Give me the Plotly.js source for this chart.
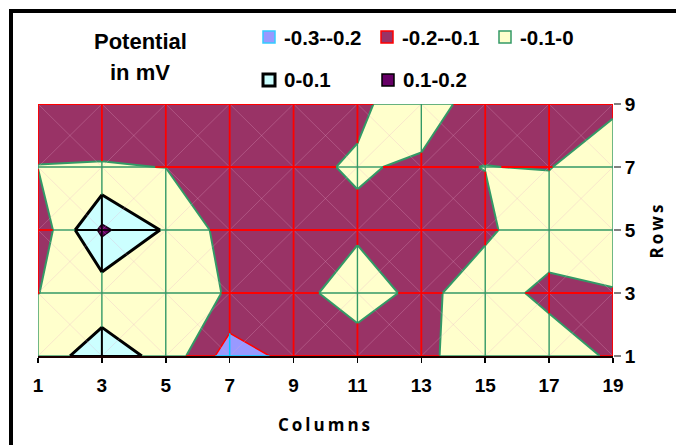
<!DOCTYPE html>
<html>
<head>
<meta charset="utf-8">
<script src="https://cdn.plot.ly/plotly-3.0.1.min.js"></script>
<style>
  html, body { margin: 0; padding: 0; background: #fff; }
  #wrap { position: relative; width: 676px; height: 445px; overflow: hidden; }
  #chart { width: 676px; height: 445px; }
  #frame { position: absolute; left: 9px; top: 9px; width: 800px; height: 600px;
           border-left: 4px solid #000; border-top: 4px solid #000; pointer-events: none; }
  text.xtitle { letter-spacing: 3px; }
  text.ytitle { letter-spacing: 3px; }
</style>
</head>
<body>
<div id="wrap"><div id="chart"></div><div id="frame"></div></div>
<script>
// ---- data ----
const cols = [1, 3, 5, 7, 9, 11, 13, 15, 17, 19];
const rows = [1, 3, 5, 7, 9];
const row1 = [-0.05, 0.05, -0.03, -0.25, -0.17, -0.138, -0.12, -0.05, -0.05, -0.113];
const row3 = [-0.101, -0.06, -0.02, -0.112, -0.123, -0.065, -0.12, -0.06, -0.124, -0.102];
const row5 = [-0.167, 0.12, -0.012, -0.14, -0.14, -0.111, -0.14, -0.113, -0.05, -0.08];
const row7 = [-0.098, -0.095, -0.101, -0.14, -0.112, -0.094, -0.109, -0.099, -0.103, -0.05];
const row9 = [-0.15, -0.15, -0.15, -0.15, -0.15, -0.11, -0.07, -0.13, -0.13, -0.115];
const levels = [-0.2, -0.1, 0, 0.1];
const bandLabels = ['-0.3--0.2', '-0.2--0.1', '-0.1-0', '0-0.1', '0.1-0.2'];
const colTicks = cols.map(String);
const rowTicks = rows.map(String);

// ---- styles ----
const bandFill = ['#9999FF', '#993366', '#FFFFCC', '#CCFFFF', '#660066'];
const bandMesh = ['#00CCFF', '#FF0000', '#339966', '#000000', '#000000'];
const bandMeshW = [1.5, 1.8, 1.4, 2, 1.5];
const bandBorder = ['#33CCFF', '#FF0000', '#339966', '#000000', '#000000'];
const bandBorderW = [1.5, 1.5, 1.5, 3, 1.5];
const levelLine = [{color: '#FF0000', width: 1.5}, {color: '#339966', width: 2},
                   {color: '#000000', width: 3}, {color: '#1a001a', width: 1.5}];
const FONT = 'Liberation Sans, Arial, sans-serif';
const TFONT = 'Open Sans, Liberation Sans, sans-serif';

const z = [row1, row3, row5, row7, row9];
const W = 676, H = 445;
const M = {l: 38, r: 63, t: 104, b: 89};
const PW = W - M.l - M.r, PH = H - M.t - M.b;
const px2x = p => (p - M.l) / PW;
const py2y = p => (H - M.b - p) / PH;

function steppedScale(colors) {
  const n = colors.length, out = [];
  colors.forEach((c, i) => {
    const a = i === 0 ? 0 : (i - 0.5) / (n - 1);
    const b = i === n - 1 ? 1 : (i + 0.5) / (n - 1) - 1e-6;
    out.push([a, c]); out.push([b, c]);
  });
  return out;
}

function fillLayer(fromBand) {
  const colors = bandFill.map((c, i) => i < fromBand ? 'rgba(0,0,0,0)' : c);
  return {
    type: 'contour', x: cols, y: rows, z: z,
    autocontour: false,
    contours: {start: levels[0], end: levels[levels.length - 1], size: 0.1, coloring: 'fill', showlines: false},
    line: {width: 0, smoothing: 0},
    colorscale: steppedScale(colors), showscale: false, hoverinfo: 'skip'
  };
}

// faint cell diagonals (only left visible inside the darker bands)
function diagLayer() {
  const dx = [], dy = [];
  for (let i = 0; i < cols.length - 1; i++) {
    for (let j = 0; j < rows.length - 1; j++) {
      dx.push(cols[i], cols[i + 1], null, cols[i + 1], cols[i], null);
      dy.push(rows[j], rows[j + 1], null, rows[j], rows[j + 1], null);
    }
  }
  return {type: 'scatter', mode: 'lines', x: dx, y: dy,
          line: {color: 'rgba(230,170,200,0.4)', width: 0.7}, hoverinfo: 'skip', showlegend: false};
}

// mesh lines coloured by the band they run through (split where the value crosses a level)
function bandOf(v) { let k = 0; levels.forEach(L => { if (v >= L) k++; }); return k; }
function meshTraces() {
  const sx = bandFill.map(() => []), sy = bandFill.map(() => []);
  function edge(x0, y0, x1, y1, a, b) {
    const ts = [0];
    levels.forEach(L => { if ((a - L) * (b - L) < 0) ts.push((L - a) / (b - a)); });
    ts.push(1); ts.sort((p, q) => p - q);
    for (let s = 0; s < ts.length - 1; s++) {
      const t0 = ts[s], t1 = ts[s + 1];
      const k = bandOf(a + (t0 + t1) / 2 * (b - a));
      sx[k].push(x0 + (x1 - x0) * t0, x0 + (x1 - x0) * t1, null);
      sy[k].push(y0 + (y1 - y0) * t0, y0 + (y1 - y0) * t1, null);
    }
  }
  for (let j = 0; j < rows.length; j++)
    for (let i = 0; i < cols.length - 1; i++)
      edge(cols[i], rows[j], cols[i + 1], rows[j], z[j][i], z[j][i + 1]);
  for (let i = 0; i < cols.length; i++)
    for (let j = 0; j < rows.length - 1; j++)
      edge(cols[i], rows[j], cols[i], rows[j + 1], z[j][i], z[j + 1][i]);
  return bandFill.map((_, k) => ({type: 'scatter', mode: 'lines', x: sx[k], y: sy[k],
    line: {color: bandMesh[k], width: bandMeshW[k]}, hoverinfo: 'skip', showlegend: false}));
}

function levelLineTrace(k) {
  return {
    type: 'contour', x: cols, y: rows, z: z, autocontour: false,
    contours: {start: levels[k], end: levels[k], size: 0.1, coloring: 'none', showlines: true},
    line: {color: levelLine[k].color, width: levelLine[k].width, smoothing: 0},
    showscale: false, hoverinfo: 'skip'
  };
}

let data = [];
data.push(fillLayer(0));
data.push(diagLayer());
data.push(fillLayer(2));
data = data.concat(meshTraces());
levels.forEach((l, k) => data.push(levelLineTrace(k)));

// ---- legend (drawn with shapes + annotations) ----
const legPos = [[263, 31], [381, 31], [499, 31], [263, 74], [382, 74]];
const shapes = [], annotations = [];
bandLabels.forEach((lab, i) => {
  const [x0, y0] = legPos[i];
  shapes.push({type: 'rect', xref: 'paper', yref: 'paper',
    x0: px2x(x0), x1: px2x(x0 + 12), y0: py2y(y0), y1: py2y(y0 + 12),
    fillcolor: bandFill[i], line: {color: bandBorder[i], width: bandBorderW[i]}});
  annotations.push({xref: 'paper', yref: 'paper', x: px2x(x0 + 19), y: py2y(y0 + 6),
    xanchor: 'left', yanchor: 'middle', showarrow: false, text: lab,
    font: {family: FONT, size: 20.5, color: '#000', weight: 700}});
});
annotations.push({xref: 'paper', yref: 'paper', x: px2x(140), y: py2y(41), xanchor: 'center', yanchor: 'middle',
  showarrow: false, text: 'Potential', font: {family: FONT, size: 22, color: '#000', weight: 700}});
annotations.push({xref: 'paper', yref: 'paper', x: px2x(140), y: py2y(72), xanchor: 'center', yanchor: 'middle',
  showarrow: false, text: 'in mV', font: {family: FONT, size: 22, color: '#000', weight: 700}});

const layout = {
  width: W, height: H, margin: M,
  paper_bgcolor: '#fff', plot_bgcolor: '#fff', showlegend: false,
  xaxis: {range: [cols[0], cols[cols.length - 1]], tickvals: cols, ticktext: colTicks,
    ticks: 'outside', ticklen: 5, tickwidth: 1.5, tickcolor: '#000',
    showline: true, linecolor: '#1a0000', linewidth: 2, showgrid: false, zeroline: false,
    ticklabelstandoff: 6,
    tickfont: {family: FONT, size: 19, color: '#000', weight: 700},
    title: {text: 'Columns', standoff: 24, font: {family: TFONT, size: 17, color: '#000', weight: 700}}},
  yaxis: {range: [rows[0], rows[rows.length - 1]], tickvals: rows, ticktext: rowTicks, side: 'right',
    ticks: 'outside', ticklen: 7, tickwidth: 1.2, tickcolor: '#808080',
    showline: false, showgrid: false, zeroline: false,
    tickfont: {family: FONT, size: 19, color: '#000', weight: 700},
    title: {text: 'Rows', standoff: 16, font: {family: TFONT, size: 17, color: '#000', weight: 700}}},
  shapes: shapes, annotations: annotations
};

Plotly.newPlot('chart', data, layout, {staticPlot: true, displayModeBar: false});
</script>
</body>
</html>
